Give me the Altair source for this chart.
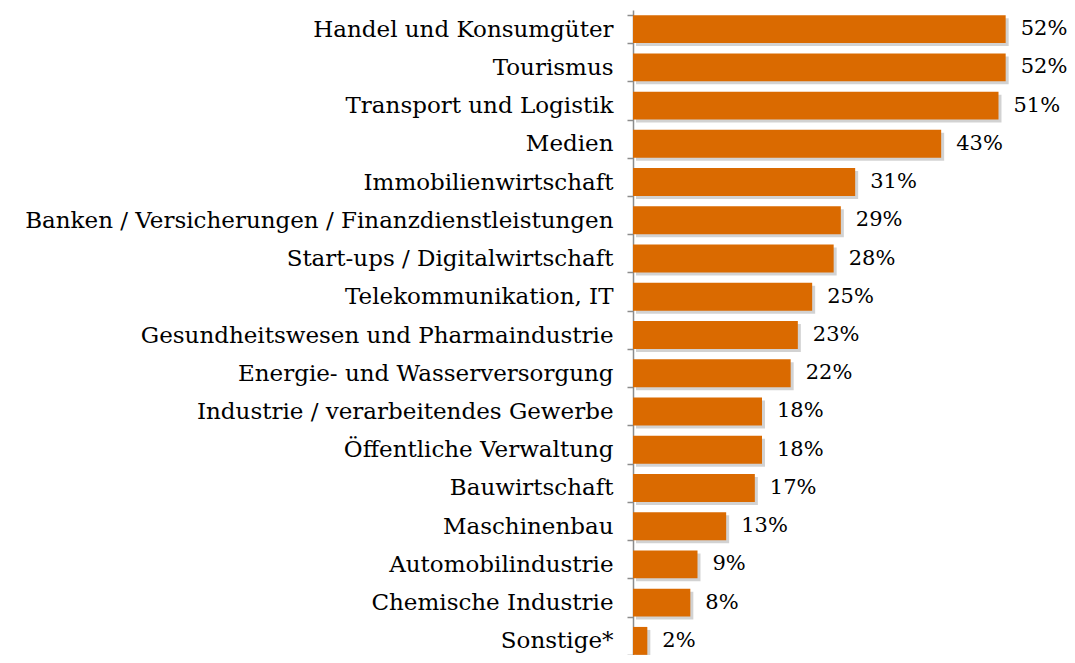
import altair as alt
import pandas as pd

categories = [
    "Handel und Konsumgüter",
    "Tourismus",
    "Transport und Logistik",
    "Medien",
    "Immobilienwirtschaft",
    "Banken / Versicherungen / Finanzdienstleistungen",
    "Start-ups / Digitalwirtschaft",
    "Telekommunikation, IT",
    "Gesundheitswesen und Pharmaindustrie",
    "Energie- und Wasserversorgung",
    "Industrie / verarbeitendes Gewerbe",
    "Öffentliche Verwaltung",
    "Bauwirtschaft",
    "Maschinenbau",
    "Automobilindustrie",
    "Chemische Industrie",
    "Sonstige*",
]
values = [52, 52, 51, 43, 31, 29, 28, 25, 23, 22, 18, 18, 17, 13, 9, 8, 2]

df = pd.DataFrame({"cat": categories, "val": values})
df["label"] = df["val"].astype(str) + "%"

FONT = "DejaVu Serif"
ORANGE = "#DA6A00"

y_enc = alt.Y(
    "cat:N",
    sort=categories,
    title=None,
    scale=alt.Scale(range=[0, 650], paddingInner=0.27, paddingOuter=0.135),
    axis=alt.Axis(
        labelFont=FONT,
        labelFontSize=23,
        labelColor="#000000",
        labelPadding=14,
        labelLimit=700,
        tickBand="extent",
        tickSize=6,
        tickColor="#8C8C8C",
        tickWidth=1.5,
        domainColor="#8C8C8C",
        domainWidth=1.5,
        grid=False,
    ),
)
x_enc = alt.X("val:Q", scale=alt.Scale(domain=[0, 60]), axis=None)

base = alt.Chart(df)

shadow = base.mark_bar(
    color="#7F7F7F", opacity=0.35, xOffset=3, x2Offset=3, yOffset=3, y2Offset=3
).encode(x=x_enc, y=y_enc)

bars = base.mark_bar(color=ORANGE).encode(x=x_enc, y=y_enc)

text = base.mark_text(
    align="left", baseline="middle", dx=15, font=FONT, fontSize=21, color="#000000"
).encode(x=x_enc, y=y_enc, text="label:N")

chart = (
    alt.layer(shadow, bars, text)
    .properties(
        width=430,
        height=645,
        autosize=alt.AutoSizeParams(type="none"),
        padding={"left": 625, "top": 2, "right": 4, "bottom": 0},
    )
    .configure(background="white", view=alt.ViewConfig(stroke=None))
)

chart.save("out.html", embed_options={"renderer": "svg", "actions": False})
